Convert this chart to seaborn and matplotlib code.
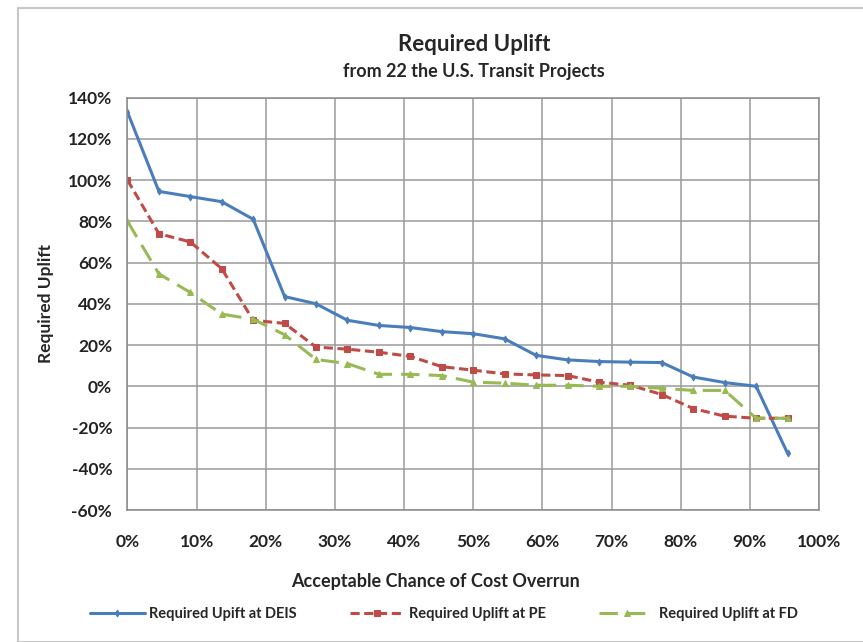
import numpy as np
import pandas as pd
import matplotlib
matplotlib.use('Agg')
import matplotlib.pyplot as plt
import matplotlib.ticker as mticker
import seaborn as sns
from matplotlib.patches import Rectangle

# acceptable chance of overrun: 22 projects -> i/22
chance = [i / 22 for i in range(22)]

uplift_deis = [133, 94.5, 92, 89.5, 81, 43.5, 40, 32, 29.5, 28.5, 26.5, 25.5, 23, 15, 12.8, 12, 11.7, 11.5, 4.5, 1.8, 0, -32.5]
uplift_pe = [100, 74, 70, 57, 32, 30.5, 19, 18, 16.5, 14.5, 9.5, 7.8, 6, 5.5, 5.2, 2, 0.5, -4, -10.8, -14.5, -15.5, -15.5]
uplift_fd = [80, 54.5, 45.5, 35, 32.5, 25, 13, 11, 5.8, 5.8, 5.2, 2, 1.5, 0.5, 0.5, 0, 0, -1, -2, -2, -15.5, -15.5]

labels = ['Required Upift at DEIS', 'Required Uplift at PE', 'Required Uplift at FD']

df = pd.DataFrame({
    'chance': chance * 3,
    'uplift': [v / 100 for v in uplift_deis + uplift_pe + uplift_fd],
    'series': [labels[0]] * 22 + [labels[1]] * 22 + [labels[2]] * 22,
})

sns.set_style('white')
plt.rcParams['font.family'] = ['Lato', 'DejaVu Sans']
plt.rcParams['font.weight'] = 'bold'
plt.rcParams['axes.unicode_minus'] = False

fig = plt.figure(figsize=(8.63, 6.42), dpi=100)
ax = fig.add_axes([0.1477, 0.2056, 0.9490 - 0.1477, 0.848 - 0.2056])

styles = {
    labels[0]: dict(color='#4A7EBB', ls='-', marker='d', ms=3.5, lw=2.2, mec='#4A7EBB'),
    labels[1]: dict(color='#BE4B48', ls=(0, (3, 1.5)), marker='s', ms=5, lw=2.2, mec='#BE4B48'),
    labels[2]: dict(color='#98B954', ls=(0, (6, 3)), marker='^', ms=5, lw=2.2, mec='#98B954'),
}
for name in labels:
    sns.lineplot(data=df[df['series'] == name], x='chance', y='uplift', ax=ax,
                 label=name, **styles[name])

ax.set_xlim(0, 1)
ax.set_ylim(-0.6, 1.4)
ax.xaxis.set_major_locator(mticker.MultipleLocator(0.1))
ax.xaxis.set_minor_locator(mticker.MultipleLocator(0.02))
ax.yaxis.set_major_locator(mticker.MultipleLocator(0.2))
ax.yaxis.set_minor_locator(mticker.MultipleLocator(0.04))
ax.xaxis.set_major_formatter(mticker.PercentFormatter(1.0, decimals=0))
ax.yaxis.set_major_formatter(mticker.PercentFormatter(1.0, decimals=0))

ax.grid(True, which='major', color='#9a9a9a', lw=1.1)
ax.set_axisbelow(True)
for s in ax.spines.values():
    s.set_color('#8a8a8a')
    s.set_linewidth(1.1)

ax.tick_params(axis='both', which='both', direction='out', color='#8a8a8a',
               labelsize=12.5, labelcolor='#222222')
ax.tick_params(axis='both', which='major', length=5)
ax.tick_params(axis='both', which='minor', length=3)
ax.tick_params(axis='x', pad=12)
ax.tick_params(axis='y', pad=6)
for lab in ax.get_xticklabels() + ax.get_yticklabels():
    lab.set_fontweight('bold')

ax.set_xlabel('Acceptable Chance of Cost Overrun', fontsize=13, fontweight='bold')
ax.xaxis.set_label_coords(0.445, -0.153)
ax.set_ylabel('Required Uplift', fontsize=12.5, fontweight='bold', labelpad=10)

fig.text(0.549, 0.931, 'Required Uplift', ha='center', va='center', fontsize=16, fontweight='bold')
fig.text(0.549, 0.888, 'from 22 the U.S. Transit Projects', ha='center', va='center', fontsize=13, fontweight='bold')

ax.legend(loc='center', bbox_to_anchor=(0.514, 0.044), bbox_transform=fig.transFigure,
          ncol=3, frameon=False, fontsize=10.5, columnspacing=3.6, handlelength=3.8,
          handletextpad=0.3)

fig.add_artist(Rectangle((0.021, 0.0), 0.99, 0.988, transform=fig.transFigure,
                         fill=False, edgecolor='#c8c8c8', lw=1.5))

fig.savefig('out.png', dpi=100)
